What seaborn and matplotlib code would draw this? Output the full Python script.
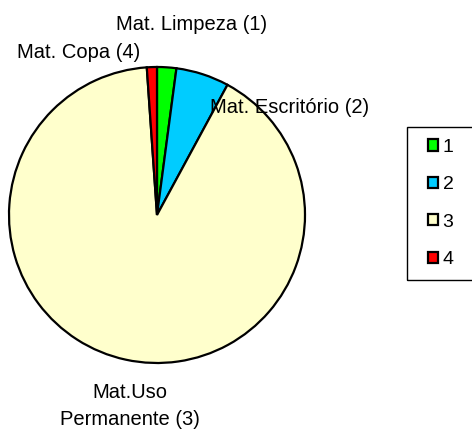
import matplotlib
matplotlib.use("Agg")
import matplotlib.pyplot as plt
from matplotlib.patches import Patch, Rectangle
import seaborn as sns

# data
categories = ["1", "2", "3", "4"]
slice_labels = ["Mat. Limpeza (1)", "Mat. Escritório (2)",
                "Mat.Uso\nPermanente (3)", "Mat. Copa (4)"]
values = [2.1, 5.8, 91.0, 1.1]
colors = ["#00FF00", "#00CCFF", "#FFFFCC", "#FF0000"]

sns.set_theme(style="white")
plt.rcParams["font.family"] = ["Liberation Sans", "DejaVu Sans"]

W, H = 472, 429
fig = plt.figure(figsize=(W / 100, H / 100), dpi=100)
ax = fig.add_axes([0, 0, 1, 1])

# pie, starts at 12 o'clock and goes clockwise
ax.pie(values, colors=colors, startangle=90, counterclock=False,
       center=(157, H - 215), radius=148,
       wedgeprops=dict(edgecolor="black", linewidth=1.6))
ax.set_xlim(0, W)
ax.set_ylim(0, H)
ax.set_aspect("equal")
ax.axis("off")

# slice labels (pixel positions, baseline)
fs = 14.5
ax.text(116, H - 30, slice_labels[0], fontsize=fs, ha="left", va="baseline", color="black")
ax.text(210, H - 113, slice_labels[1], fontsize=fs, ha="left", va="baseline", color="black")
line1, line2 = slice_labels[2].split("\n")
ax.text(130, H - 398.5, line1, fontsize=fs, ha="center", va="baseline", color="black")
ax.text(130, H - 425, line2, fontsize=fs, ha="center", va="baseline", color="black")
ax.text(17, H - 58.5, slice_labels[3], fontsize=fs, ha="left", va="baseline", color="black")

# legend frame runs off the right edge
fig.patches.append(Rectangle((407 / W, 1 - 280 / H), 80 / W, 153 / H,
                             transform=fig.transFigure, fill=False,
                             edgecolor="black", linewidth=1.0))

handles = [Patch(facecolor=c, edgecolor="black", linewidth=1.6) for c in colors]
fig.legend(handles, categories, loc="center left",
           bbox_to_anchor=(428 / W, 1 - 203.5 / H), frameon=False,
           fontsize=14, labelcolor="black", handlelength=0.5, handleheight=0.5,
           handletextpad=0.25, labelspacing=1.05, borderpad=0, borderaxespad=0)

fig.savefig("out.png", dpi=100)
